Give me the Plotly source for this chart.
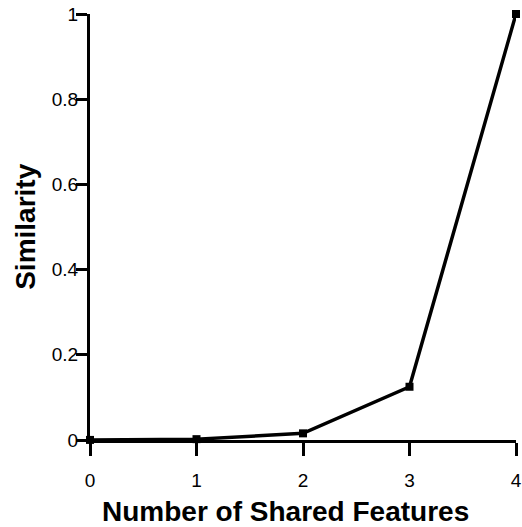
import plotly.graph_objects as go

# Similarity as a function of the number of shared features
shared_features = [0, 1, 2, 3, 4]
similarity = [0.0002, 0.002, 0.0156, 0.125, 1.0]

x_tick_vals = [0, 1, 2, 3, 4]
y_tick_vals = [0, 0.2, 0.4, 0.6, 0.8, 1]
y_tick_text = ["0", "0.2", "0.4", "0.6", "0.8", "1"]

x_title = "<b>Number of Shared Features</b>"
y_title = "<b>Similarity</b>"

fig = go.Figure()
fig.add_trace(go.Scatter(
    x=shared_features,
    y=similarity,
    mode="lines+markers",
    line=dict(color="black", width=3.5),
    marker=dict(symbol="square", size=8, color="black"),
    cliponaxis=False,
    showlegend=False,
))

axis_font = dict(family="Liberation Sans, Arial, sans-serif", size=19, color="black")
title_font = dict(family="Liberation Sans, Arial, sans-serif", size=28, color="black")

fig.update_layout(
    width=522,
    height=527,
    margin=dict(l=90, r=6, t=14, b=87),
    paper_bgcolor="white",
    plot_bgcolor="white",
    xaxis=dict(
        range=[0, 4],
        tickmode="array",
        tickvals=x_tick_vals,
        ticktext=[str(v) for v in x_tick_vals],
        ticks="outside",
        ticklen=13,
        tickwidth=3,
        tickcolor="black",
        ticklabelstandoff=8,
        showline=True,
        linewidth=3,
        linecolor="black",
        showgrid=False,
        zeroline=False,
        automargin=False,
        tickfont=axis_font,
    ),
    yaxis=dict(
        range=[0, 1],
        tickmode="array",
        tickvals=y_tick_vals,
        ticktext=y_tick_text,
        ticks="outside",
        ticklen=11,
        tickwidth=2.5,
        tickcolor="black",
        ticklabelstandoff=-6,
        showline=True,
        linewidth=3,
        linecolor="black",
        showgrid=False,
        zeroline=False,
        automargin=False,
        tickfont=axis_font,
    ),
    annotations=[
        dict(text=x_title, xref="paper", yref="paper", x=0.46, y=-0.168,
             xanchor="center", yanchor="middle", showarrow=False, font=title_font),
        dict(text=y_title, xref="paper", yref="paper", x=-0.153, y=0.5,
             xanchor="center", yanchor="middle", textangle=-90, showarrow=False,
             font=title_font),
    ],
)

fig.write_html("out.html")
